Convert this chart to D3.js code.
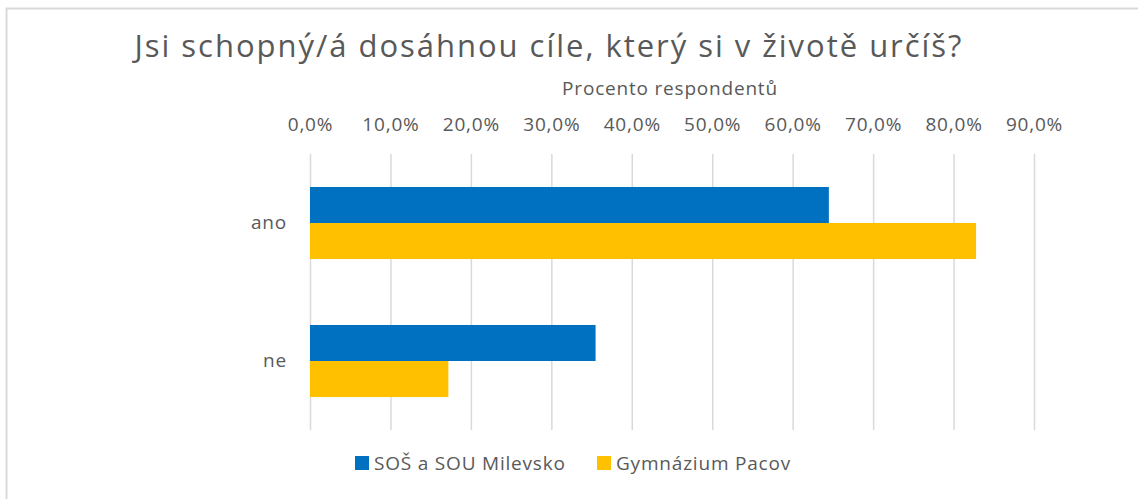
<!DOCTYPE html>
<html><head><meta charset="utf-8">
<script src="https://cdn.jsdelivr.net/npm/d3@7"></script>
<style>
html,body{margin:0;padding:0;background:#fff;}
svg{display:block;font-family:"Open Sans","Noto Sans",sans-serif;}
</style></head>
<body><svg id="c" width="1138" height="499"></svg>
<script>
const categories = ["ano", "ne"];
const seriesNames = ["SOŠ a SOU Milevsko", "Gymnázium Pacov"];
const milevsko = [64.5, 35.5];
const pacov = [82.8, 17.2];
const tickValues = [0, 10, 20, 30, 40, 50, 60, 70, 80, 90];
const colors = ["#0070C0", "#FFC000"];
const title = "Jsi schopný/á dosáhnou cíle, který si v životě určíš?";
const axisTitle = "Procento respondentů";

const series = [milevsko, pacov];
const svg = d3.select("#c");
const textColor = "#595959";
const fs = 19, ls = 0.8;

// chart border (top and left visible)
svg.append("rect").attr("x", 6.5).attr("y", 8.5).attr("width", 1200).attr("height", 600)
  .attr("fill", "none").attr("stroke", "#d9d9d9").attr("stroke-width", 2);

const plot = {left: 310, right: 1034, top: 154, bottom: 430};
const x = d3.scaleLinear().domain([0, 90]).range([plot.left, plot.right]);
const y0 = d3.scaleBand().domain(categories).range([plot.top, plot.bottom])
  .paddingInner(0.478).paddingOuter(0.239);
const y1 = d3.scaleBand().domain(d3.range(series.length)).range([0, y0.bandwidth()]);

const loc = d3.formatLocale({decimal: ",", thousands: " ", grouping: [3], currency: ["", ""]});
const fmt = loc.format(".1f");

// gridlines + top tick labels
const xAxis = d3.axisTop(x).tickValues(tickValues)
  .tickSize(-(plot.bottom - plot.top)).tickPadding(23)
  .tickFormat(d => fmt(d) + "%");
const gx = svg.append("g").attr("transform", `translate(0,${plot.top})`).call(xAxis);
gx.select(".domain").remove();
gx.selectAll("line").attr("stroke", "#d9d9d9").attr("stroke-width", 1.5);
gx.selectAll("text").attr("fill", textColor).attr("font-size", fs)
  .attr("letter-spacing", ls).attr("font-family", '"Open Sans",sans-serif');

// bars
categories.forEach((c, i) => {
  series.forEach((s, j) => {
    svg.append("rect")
      .attr("x", x(0))
      .attr("y", y0(c) + y1(j))
      .attr("width", x(s[i]) - x(0))
      .attr("height", y1.bandwidth())
      .attr("fill", colors[j]);
  });
});

// category axis
const yAxis = d3.axisLeft(y0).tickSize(0).tickPadding(23);
const gy = svg.append("g").attr("transform", `translate(${plot.left},0)`).call(yAxis);
gy.select(".domain").remove();
gy.selectAll("text").attr("fill", textColor).attr("font-size", fs)
  .attr("letter-spacing", ls).attr("font-family", '"Open Sans",sans-serif');

// title
svg.append("text").attr("x", 548).attr("y", 57).attr("text-anchor", "middle")
  .attr("fill", textColor).attr("font-size", 31).attr("textLength", 827)
  .attr("lengthAdjust", "spacing").text(title);

// axis title
svg.append("text").attr("x", 670).attr("y", 95).attr("text-anchor", "middle")
  .attr("fill", textColor).attr("font-size", fs).attr("letter-spacing", ls).text(axisTitle);

// legend
const legendX = [355, 597];
seriesNames.forEach((n, j) => {
  svg.append("rect").attr("x", legendX[j]).attr("y", 456).attr("width", 14).attr("height", 14)
    .attr("fill", colors[j]);
  svg.append("text").attr("x", legendX[j] + 19).attr("y", 470)
    .attr("fill", textColor).attr("font-size", fs).attr("letter-spacing", ls).text(n);
});
</script></body></html>
